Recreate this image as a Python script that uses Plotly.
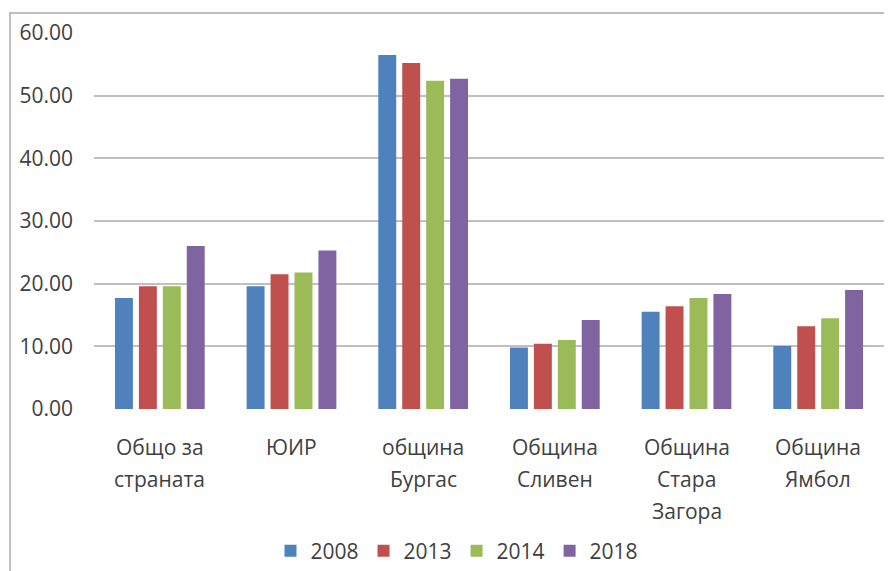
import plotly.graph_objects as go

categories = ["Общо за страната", "ЮИР", "община Бургас", "Община Сливен", "Община Стара Загора", "Община Ямбол"]
category_lines = [["Общо за", "страната"], ["ЮИР"], ["община", "Бургас"], ["Община", "Сливен"],
                  ["Община", "Стара", "Загора"], ["Община", "Ямбол"]]
years = ["2008", "2013", "2014", "2018"]
v2008 = [17.7, 19.6, 56.5, 9.8, 15.5, 10.05]
v2013 = [19.6, 21.5, 55.2, 10.4, 16.4, 13.2]
v2014 = [19.6, 21.8, 52.4, 11.0, 17.7, 14.5]
v2018 = [26.0, 25.3, 52.7, 14.2, 18.35, 19.0]
series = [v2008, v2013, v2014, v2018]
colors = ["#4F81BD", "#C0504D", "#9BBB59", "#8064A2"]
yticks = [0, 10, 20, 30, 40, 50, 60]

FONT = "Open Sans"
TXT = "#404040"
FS = 21

OFF = 8  # default page body margin
W, H = 892 - 2 * OFF, 571 - OFF
L, T = 94 - OFF, 33 - OFF
R = 0
B = H - (409 - OFF)
pw, ph = W - L - R, H - T - B
bottom_px = T + ph  # y of zero line in figure coords

fig = go.Figure()
for name, vals, col in zip(years, series, colors):
    fig.add_trace(go.Bar(x=categories, y=vals, name=name, marker=dict(color=col, line=dict(width=0))))

annotations = []
for cat, lines in zip(categories, category_lines):
    for i, ln in enumerate(lines):
        annotations.append(dict(x=cat, xref="x", y=0, yref="paper", text=ln, showarrow=False,
                                yanchor="middle", xanchor="center", yshift=-38 - 32 * i,
                                font=dict(family=FONT, size=FS, color=TXT)))

fig.update_layout(
    width=W, height=H,
    margin=dict(l=L, r=R, t=T, b=B, pad=0, autoexpand=False),
    paper_bgcolor="white", plot_bgcolor="white",
    barmode="group", bargap=0.273, bargroupgap=0.25,
    font=dict(family=FONT, size=FS, color=TXT),
    xaxis=dict(showticklabels=False, showgrid=False, zeroline=False, showline=False, ticks=""),
    yaxis=dict(range=[0, 60], tickvals=yticks, tickformat=".2f", showgrid=True, gridcolor="#C0C0C0",
               gridwidth=2, zeroline=False, showline=False, ticks="", ticklabelstandoff=20,
               tickfont=dict(family=FONT, size=FS, color=TXT)),
    legend=dict(orientation="h", x=(457 - OFF - L) / pw, xanchor="center",
                y=-(551 - 409) / ph, yanchor="middle",
                font=dict(family=FONT, size=FS, color=TXT), itemwidth=30, tracegroupgap=0),
    annotations=annotations,
    shapes=[dict(type="rect", xref="paper", yref="paper", layer="below",
                 x0=(10 - OFF - L) / pw, x1=(W + 20 - L) / pw,
                 y0=-(H + 20 - bottom_px) / ph, y1=(bottom_px - (13 - OFF)) / ph,
                 line=dict(color="#BFBFBF", width=2), fillcolor="rgba(0,0,0,0)")],
)

fig.write_html("out.html")
